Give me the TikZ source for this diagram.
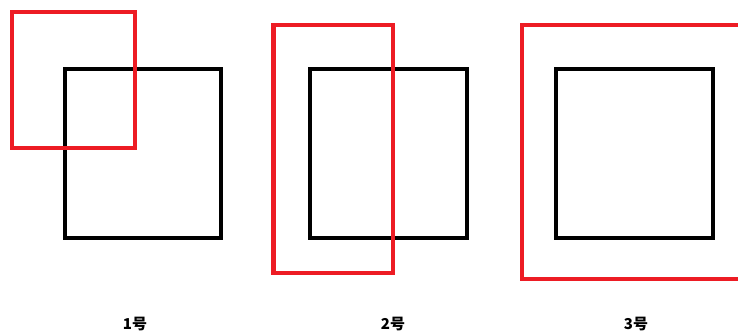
\documentclass[tikz,border=0pt]{standalone}
\usepackage{fontspec}
\newfontfamily\cjk{Noto Sans CJK SC}
\usetikzlibrary{positioning}
\definecolor{paintred}{RGB}{237,28,36}

\begin{document}
\begin{tikzpicture}[
        x=1pt, y=-1pt,
        blackbox/.style={draw=black, line width=4pt},
        redbox/.style={draw=paintred, line width=4.2pt},
        label/.style={font=\cjk\bfseries\fontsize{15}{18}\selectfont, inner sep=0pt}
    ]
        \clip (0,0) rectangle (738,333);
        \fill[white] (0,0) rectangle (738,333);

        % case 1
        \draw[blackbox] (65,68.7) rectangle (221,238);
        \draw[redbox] (12.3,12.3) rectangle (134.7,147.7);
        \node[label] (lab1) at (135,324) {1号};

        % case 2
        \draw[blackbox] (310.3,68.7) rectangle (467,238);
        \draw[redbox] (273.5,25.3) rectangle (393,273);
        \node[label] (lab2) at (393,324) {2号};

        % case 3
        \draw[blackbox] (556.3,68.7) rectangle (713,238);
        \draw[redbox] (522,25) rectangle (750,278.7);
        \node[label] (lab3) at (636,324) {3号};
    \end{tikzpicture}
\end{document}
